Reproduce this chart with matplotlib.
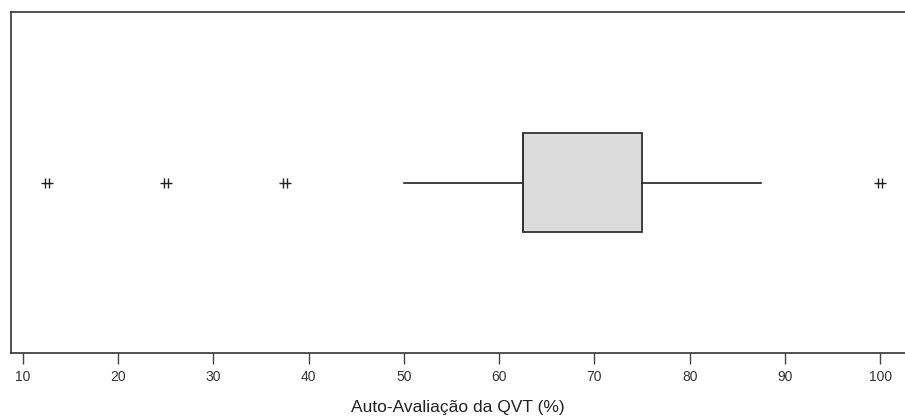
import matplotlib.pyplot as plt
from matplotlib.path import Path

# resumo do boxplot
q1 = 62.5
med = 62.5
q3 = 75.0
whislo = 50.0
whishi = 87.5
outliers = [12.5, 25.0, 37.5, 100.0]
ticks = [10, 20, 30, 40, 50, 60, 70, 80, 90, 100]

plt.rcParams['font.family'] = ['Liberation Sans', 'DejaVu Sans']

# marcador: traço horizontal com dois traços verticais
mark = Path([(-1, 0), (1, 0), (-0.25, -0.75), (-0.25, 0.75), (0.25, -0.75), (0.25, 0.75)],
            [Path.MOVETO, Path.LINETO, Path.MOVETO, Path.LINETO, Path.MOVETO, Path.LINETO])

fig = plt.figure(figsize=(9.05, 4.17), dpi=100)
ax = fig.add_axes([0.0122, 0.1535, 0.9878, 0.8175])

stats = [dict(med=med, q1=q1, q3=q3, whislo=whislo, whishi=whishi, fliers=outliers)]
ax.bxp(stats, positions=[1], widths=0.293, vert=False, showcaps=False, patch_artist=True,
       boxprops=dict(facecolor='#dcdcdc', edgecolor='#333333', linewidth=1.3),
       whiskerprops=dict(color='#222222', linewidth=1.2),
       medianprops=dict(color='#333333', linewidth=1.3),
       flierprops=dict(marker=mark, markersize=9, markeredgecolor='#222222',
                       markerfacecolor='none', markeredgewidth=1.0, linestyle='none'))

ax.set_xlim(8.75, 102.6)
ax.set_ylim(0.5, 1.5)
ax.set_yticks([])
ax.set_xticks(ticks)
ax.set_xticklabels([str(t) for t in ticks], fontsize=10, color='#333333')
ax.tick_params(axis='x', length=8, width=1, color='#444444', pad=4)
for s in ['left', 'top', 'bottom']:
    ax.spines[s].set_color('#333333')
    ax.spines[s].set_linewidth(1.2)
ax.spines['right'].set_visible(False)
ax.set_xlabel('Auto-Avaliação da QVT (%)', fontsize=12.5, color='#222222', labelpad=12)

fig.savefig('out.png', dpi=100)
